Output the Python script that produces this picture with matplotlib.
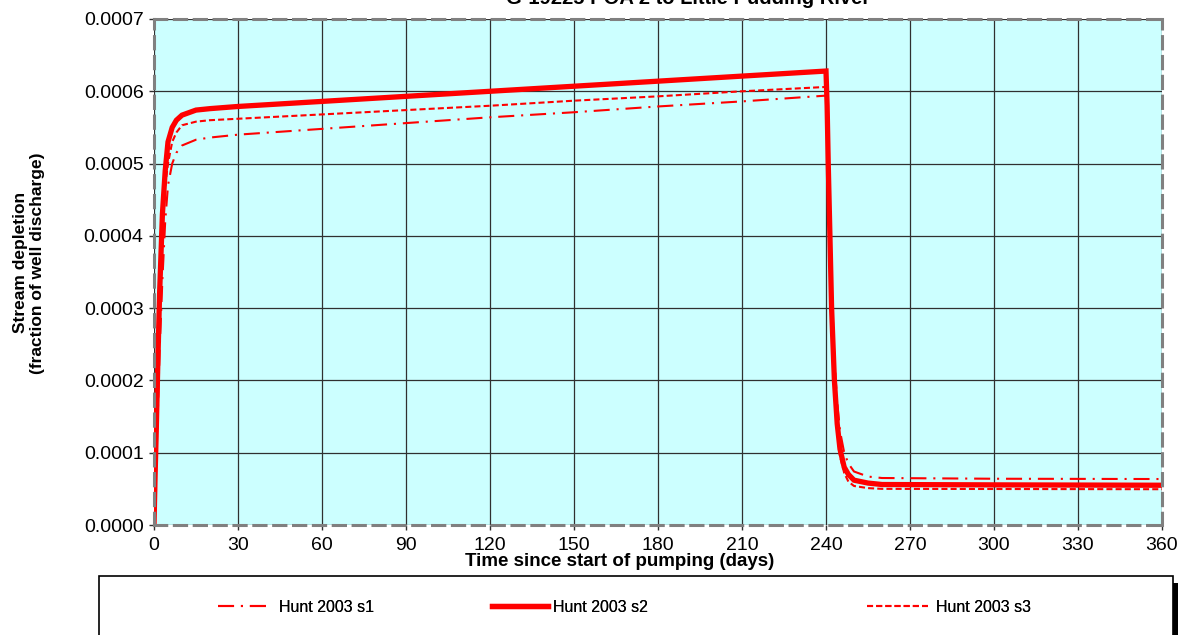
import matplotlib
matplotlib.use("Agg")
import matplotlib.pyplot as plt
from matplotlib.patches import Rectangle
from matplotlib.ticker import FormatStrFormatter

plt.rcParams['font.family'] = ['Liberation Sans', 'DejaVu Sans']

title = "G-19225 POA 2 to Little Pudding River"
xlabel = "Time since start of pumping (days)"
ylabel = "Stream depletion\n(fraction of well discharge)"
labels = ["Hunt 2003 s1", "Hunt 2003 s2", "Hunt 2003 s3"]

t = [0, 0.4, 0.8, 1.4, 2, 3, 4, 5, 6.5, 8, 10, 15, 20, 30, 60, 90, 120, 150,
     180, 210, 240, 240.4, 240.8, 241.4, 242, 243, 244, 245, 246.5, 248, 250,
     255, 260, 300, 360]

s1 = [0, 0.00004, 0.00009, 0.00016, 0.00024, 0.00034, 0.00042, 0.00047,
      0.00050, 0.000515, 0.000525, 0.000533, 0.000536, 0.00054, 0.000548,
      0.000556, 0.000564, 0.000571, 0.000579, 0.000586, 0.000594,
      0.00056, 0.0005, 0.00041, 0.00033, 0.00023, 0.00017, 0.00013, 0.0001,
      0.000085, 0.000074, 0.000067, 0.000065, 0.000064, 0.0000636]

s2 = [0, 0.00007, 0.00013, 0.00023, 0.00032, 0.00043, 0.00049, 0.00053,
      0.00055, 0.00056, 0.000567, 0.000574, 0.000576, 0.000579, 0.000586,
      0.000593, 0.0006, 0.000607, 0.000614, 0.000621, 0.000628,
      0.00058, 0.0005, 0.0004, 0.0003, 0.0002, 0.00014, 0.000105, 0.00008,
      0.00007, 0.000062, 0.000058, 0.000056, 0.0000555, 0.000055]

s3 = [0, 0.00006, 0.00012, 0.00021, 0.0003, 0.00041, 0.00047, 0.0005,
      0.00053, 0.000543, 0.000553, 0.000558, 0.00056, 0.000562, 0.000568,
      0.000574, 0.00058, 0.000587, 0.000593, 0.0006, 0.000606,
      0.00056, 0.00048, 0.00038, 0.00029, 0.00019, 0.00013, 0.000095,
      0.000072, 0.00006, 0.000054, 0.000051, 0.00005, 0.0000498, 0.0000495]

xticks = list(range(0, 361, 30))
yticks = [0.0, 0.0001, 0.0002, 0.0003, 0.0004, 0.0005, 0.0006, 0.0007]

W, H = 1178, 635
fig = plt.figure(figsize=(W / 100, H / 100), dpi=100)
ax = fig.add_axes([154 / W, 1 - 525 / H, (1162 - 154) / W, (525 - 19) / H])
ax.set_facecolor('#CCFFFF')

l1, = ax.plot(t, s1, color='red', lw=1.5, dashes=(7.7, 3.3, 1, 3.3), label=labels[0])
l2, = ax.plot(t, s2, color='red', lw=3.8, solid_joinstyle='miter', label=labels[1])
l3, = ax.plot(t, s3, color='red', lw=1.5, dashes=(2.9, 1.5), label=labels[2])

ax.set_xlim(0, 360)
ax.set_ylim(0, 0.0007)
ax.set_xticks(xticks)
ax.set_yticks(yticks)
ax.yaxis.set_major_formatter(FormatStrFormatter('%.4f'))
ax.grid(True, color='#303030', lw=0.9)
ax.set_axisbelow(True)
ax.tick_params(direction='out', length=3.5, width=1, color='#303030',
               labelsize=14)
ax.tick_params(axis='x', pad=5)
ax.tick_params(axis='y', pad=4)
for sp in ax.spines.values():
    sp.set_color('#808080')
    sp.set_linewidth(2.2)
    sp.set_linestyle((0, (4, 2.5)))

ax.set_xlabel(xlabel, fontsize=13.5, fontweight='bold')
ax.xaxis.set_label_coords(0.4623, -0.0553)
ax.set_ylabel(ylabel, fontsize=12.5, fontweight='bold')
ax.yaxis.set_label_coords(-0.108, 0.518)

fig.text(688 / W, 1 - 4 / H, title, ha='center', va='baseline',
         fontsize=14.5, fontweight='bold')

# legend box with shadow
fig.patches.append(Rectangle((1173 / W, 0), 5 / W, 1 - 583 / H,
                             transform=fig.transFigure, facecolor='black',
                             edgecolor='none'))
fig.patches.append(Rectangle((99 / W, -0.05), (1173 - 99) / W, 0.05 + 1 - 576 / H,
                             transform=fig.transFigure, facecolor='white',
                             edgecolor='black', lw=1.2))

specs = [(l1, 218, 3.0, 0.8), (l2, 492, 3.5, 0.3), (l3, 867, 3.8, 0.5)]
for h, xpx, hl, hp in specs:
    leg = fig.legend(handles=[h], loc='center left',
                     bbox_to_anchor=(xpx / W, 1 - 607 / H),
                     frameon=False, fontsize=11.5, handlelength=hl,
                     handletextpad=hp, borderpad=0, borderaxespad=0)
    fig.add_artist(leg)

fig.savefig('out.png', dpi=100)
